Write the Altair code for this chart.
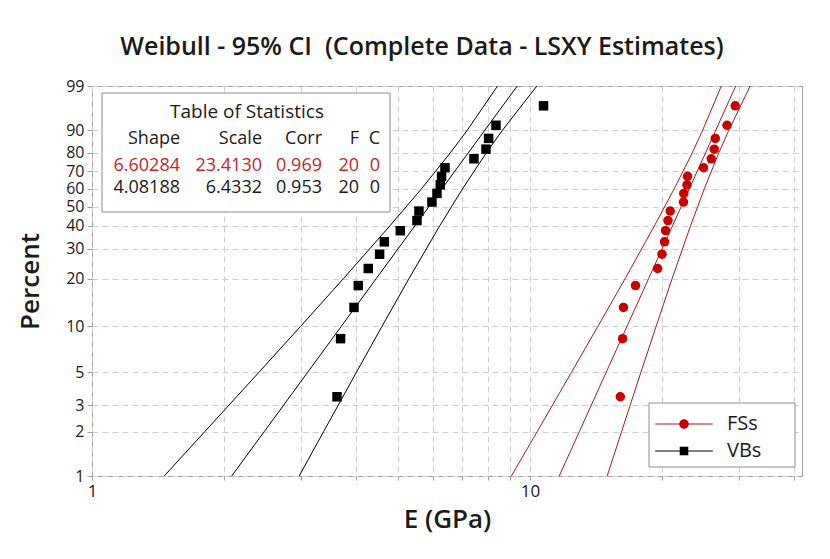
import math
import altair as alt
import pandas as pd

# ---------------- data ----------------
# plotting positions (percent) of the 20 ordered observations
pct_points = [3.43, 8.33, 13.24, 18.14, 23.04, 27.94, 32.84, 37.75, 42.65, 47.55,
              52.45, 57.35, 62.25, 67.16, 72.06, 76.96, 81.86, 86.76, 91.67, 96.57]
fs_x = [16.08, 16.28, 16.35, 17.42, 19.56, 20.02, 20.29, 20.40, 20.66, 20.91,
        22.42, 22.45, 22.83, 22.90, 24.91, 25.94, 26.35, 26.49, 28.18, 29.43]
vb_x = [3.626, 3.695, 3.965, 4.055, 4.274, 4.536, 4.650, 5.057, 5.521, 5.579,
        5.973, 6.133, 6.240, 6.284, 6.397, 7.449, 7.936, 8.046, 8.364, 10.74]

# fitted line and 95% CI curves, sampled at these percent levels
ci_pct = [1, 2, 5, 10, 20, 40, 60, 80, 90, 99]
fs_fit = [11.665, 12.968, 14.93, 16.65, 18.66, 21.15, 23.11, 25.17, 26.57, 29.50]
fs_lo = [9.069, 10.39, 12.44, 14.29, 16.49, 19.23, 21.35, 23.47, 24.80, 27.35]
fs_hi = [15.01, 16.19, 17.92, 19.41, 21.11, 23.26, 25.01, 26.99, 28.46, 31.84]
vb_fit = [2.084, 2.474, 3.108, 3.707, 4.455, 5.458, 6.298, 7.229, 7.891, 9.352]
vb_lo = [1.462, 1.810, 2.406, 2.993, 3.750, 4.786, 5.654, 6.577, 7.195, 8.433]
vb_hi = [2.972, 3.380, 4.016, 4.592, 5.293, 6.220, 7.016, 7.947, 8.658, 10.37]

series_names = ["FSs", "VBs"]

# axis ticks
y_tick_pct = [1, 2, 3, 5, 10, 20, 30, 40, 50, 60, 70, 80, 90, 99]
x_tick_vals = [1, 2, 3, 4, 5, 6, 7, 8, 9, 10, 20, 30, 40]

# table of statistics
table_title = "Table of Statistics"
table_headers = ["Shape", "Scale", "Corr", "F", "C"]
fs_stats = ["6.60284", "23.4130", "0.969", "20", "0"]
vb_stats = ["4.08188", "6.4332", "0.953", "20", "0"]

chart_title = "Weibull - 95% CI \u00a0(Complete Data - LSXY Estimates)"

# ---------------- styling / layout ----------------
FONT = "Open Sans"
RED_PT = "#c80000"
RED_LN = "#a51c1c"
W, H = 710, 390
col_right = [88, 170, 230, 267, 288]
row_y = [53, 80, 102]


def wb(p):
    return math.log(-math.log(1 - p / 100.0))


y_domain = [wb(1), wb(99)]
y_ticks = [wb(p) for p in y_tick_pct]

# ---------------- tables ----------------
pts = pd.DataFrame(
    {"series": ["FSs"] * len(fs_x) + ["VBs"] * len(vb_x),
     "x": fs_x + vb_x,
     "pct": pct_points + pct_points}
)

rows = []
for s, parts in [("FSs", [("fit", fs_fit), ("lo", fs_lo), ("hi", fs_hi)]),
                 ("VBs", [("fit", vb_fit), ("lo", vb_lo), ("hi", vb_hi)])]:
    for kind, vals in parts:
        for p, v in zip(ci_pct, vals):
            rows.append({"series": s, "kind": s + kind, "pct": p, "x": v})
lines = pd.DataFrame(rows)

cells = []
for i, h in enumerate(table_headers):
    cells.append({"tx": col_right[i], "ty": row_y[0], "text": h, "col": "#1a1a1a"})
for i, v in enumerate(fs_stats):
    cells.append({"tx": col_right[i], "ty": row_y[1], "text": v, "col": "#c0282d"})
for i, v in enumerate(vb_stats):
    cells.append({"tx": col_right[i], "ty": row_y[2], "text": v, "col": "#1a1a1a"})
cells_df = pd.DataFrame(cells)
title_df = pd.DataFrame({"tx": [155], "ty": [26], "text": [table_title]})


def x_enc():
    return alt.X(
        "x:Q",
        scale=alt.Scale(type="log", domain=[1, 41.8], nice=False),
        axis=alt.Axis(values=x_tick_vals,
                      labelExpr="datum.value == 1 || datum.value == 10 ? datum.label : ''",
                      title="E (GPa)", titleFontSize=26, titleFontWeight=600,
                      titlePadding=7, labelFontSize=17, tickSize=4,
                      labelFlush=False, labelOverlap=False),
    )


def y_enc():
    return alt.Y(
        "w:Q",
        scale=alt.Scale(domain=y_domain, nice=False, zero=False),
        axis=alt.Axis(values=y_ticks,
                      labelExpr="round(100 * (1 - exp(-exp(datum.value))))",
                      title="Percent", titleFontSize=26, titleFontWeight=600,
                      titlePadding=22, labelFontSize=16, tickSize=5,
                      labelFlush=False, labelOverlap=False, labelBound=False),
    )


wcalc = "log(-log(1 - datum.pct / 100))"

line_layer = alt.Chart(lines).transform_calculate(w=wcalc).mark_line(
    strokeWidth=1, clip=True
).encode(
    x=x_enc(), y=y_enc(),
    color=alt.Color("series:N", scale=alt.Scale(domain=series_names, range=[RED_LN, "#000000"]), legend=None),
    detail="kind:N",
    order="pct:Q",
)

pt_layer = alt.Chart(pts).transform_calculate(w=wcalc).mark_point(
    filled=True, opacity=1, size=90
).encode(
    x=x_enc(), y=y_enc(),
    color=alt.Color("series:N", scale=alt.Scale(domain=series_names, range=[RED_PT, "#000000"]), legend=None),
    shape=alt.Shape("series:N", scale=alt.Scale(domain=series_names, range=["circle", "square"]), legend=None),
)

box_df = pd.DataFrame({"a": [0]})
table_box = alt.Chart(box_df).mark_rect(fill="white", stroke="#8c8c8c", strokeWidth=1).encode(
    x=alt.value(10), x2=alt.value(298), y=alt.value(7), y2=alt.value(126)
)
table_title_text = alt.Chart(title_df).mark_text(
    font=FONT, fontSize=19, baseline="middle", align="center", color="#1a1a1a"
).encode(
    x=alt.X("tx:Q", scale=None), y=alt.Y("ty:Q", scale=None), text="text:N",
)
table_text = alt.Chart(cells_df).mark_text(
    font=FONT, fontSize=18, baseline="middle", align="right"
).encode(
    x=alt.X("tx:Q", scale=None), y=alt.Y("ty:Q", scale=None),
    text="text:N",
    color=alt.Color("col:N", scale=None),
)

legend_box = alt.Chart(box_df).mark_rect(fill="white", stroke="#8c8c8c", strokeWidth=1).encode(
    x=alt.value(557), x2=alt.value(703), y=alt.value(317), y2=alt.value(381)
)

# legend: a line symbol legend with a marker legend laid exactly over it
line_path = "M-6.4,0L6.4,0"
circ_path = "M-1.05,0A1.05,1.05,0,1,1,1.05,0A1.05,1.05,0,1,1,-1.05,0Z"
sq_path = "M-0.95,-0.95L0.95,-0.95L0.95,0.95L-0.95,0.95Z"
leg_common = dict(orient="none", legendX=563, legendY=328, title=None,
                  labelFont=FONT, labelFontSize=20, labelColor="#1a1a1a",
                  symbolSize=81, symbolOffset=19, labelOffset=33, rowPadding=7,
                  padding=0)
leg_lines = alt.Legend(symbolStrokeWidth=1.2, zindex=1, **leg_common)
leg_marks = alt.Legend(symbolStrokeWidth=0, labelOpacity=0, zindex=2, **leg_common)

legend_lines_layer = alt.Chart(pts).transform_filter("false").mark_point(
    filled=False, opacity=1, strokeWidth=1.2
).encode(
    x="x:Q",
    color=alt.Color("series:N", scale=alt.Scale(domain=series_names, range=[RED_LN, "#000000"]), legend=leg_lines),
    shape=alt.Shape("series:N", scale=alt.Scale(domain=series_names, range=[line_path, line_path]), legend=leg_lines),
)
legend_marks_layer = alt.Chart(pts).transform_filter("false").mark_point(
    filled=True, opacity=1
).encode(
    x="x:Q",
    color=alt.Color("series:N", scale=alt.Scale(domain=series_names, range=[RED_PT, "#000000"]), legend=leg_marks),
    shape=alt.Shape("series:N", scale=alt.Scale(domain=series_names, range=[circ_path, sq_path]), legend=leg_marks),
)

chart = alt.layer(
    line_layer, pt_layer, table_box, table_title_text, table_text, legend_box,
    legend_lines_layer, legend_marks_layer
).resolve_scale(
    color="independent", shape="independent"
).properties(
    width=W, height=H,
    title=alt.TitleParams(chart_title,
                          font=FONT, fontSize=25, fontWeight=600, color="#1a1a1a",
                          anchor="middle", dx=-25, offset=18),
    padding={"left": 84, "top": 78, "right": 20, "bottom": 70},
    autosize=alt.AutoSizeParams(type="none"),
).configure_view(
    stroke="#a0a0a0", strokeWidth=1
).configure_axis(
    domain=False, grid=True, gridDash=[6, 4], gridColor="#cfcfcf",
    tickColor="#a0a0a0", labelFont=FONT, titleFont=FONT, labelColor="#1a1a1a",
    titleColor="#1a1a1a", labelPadding=3, labelOverlap=False,
).configure_axisY(
    labelOverlap=False
)

chart.save("out.html", embed_options={"renderer": "svg", "actions": False})
